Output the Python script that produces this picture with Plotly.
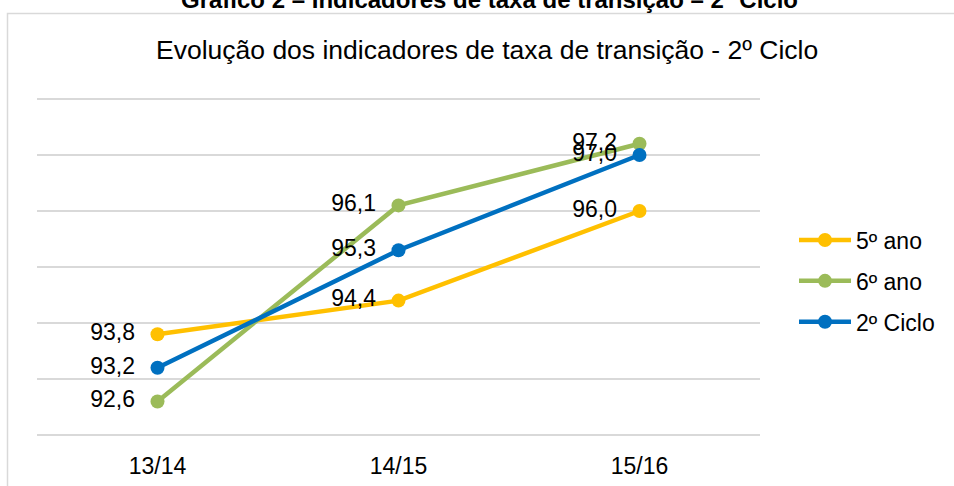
import plotly.graph_objects as go

categories = ["13/14", "14/15", "15/16"]
ano5 = [93.8, 94.4, 96.0]
ano6 = [92.6, 96.1, 97.2]
ciclo2 = [93.2, 95.3, 97.0]
series_names = ["5º ano", "6º ano", "2º Ciclo"]
series_colors = ["#FFC000", "#9BBB59", "#0070C0"]
PAD = "\u00a0\u00a0"
labels = lambda vals: [f"{v:.1f}".replace(".", ",") + PAD for v in vals]

W, H = 954, 486
L, R, T, B = 37, 194, 97, 49
PW, PH = W - L - R, H - T - B

def px(xp):
    return (xp - L) / PW

def py(yp):
    return (H - B - yp) / PH

FONT = "Liberation Sans, Arial, sans-serif"

fig = go.Figure()
for name, vals, col in zip(series_names, [ano5, ano6, ciclo2], series_colors):
    fig.add_trace(go.Scatter(
        x=categories, y=vals, name=name, legendgroup=name,
        mode="lines+markers+text",
        line=dict(color=col, width=4.5),
        marker=dict(color=col, size=14),
        text=labels(vals), textposition="middle left",
        textfont=dict(family=FONT, size=23, color="#000000"),
        cliponaxis=False, hoverinfo="skip",
    ))

fig.update_layout(
    width=W, height=H,
    margin=dict(l=L, r=R, t=T, b=B, autoexpand=False),
    paper_bgcolor="white", plot_bgcolor="white",
    font=dict(family=FONT, size=23, color="#000000"),
    showlegend=True,
    legend=dict(x=px(794), y=py(281), xanchor="left", yanchor="middle",
                font=dict(family=FONT, size=23, color="#000000"),
                tracegroupgap=8, itemwidth=52, bgcolor="rgba(0,0,0,0)"),
    xaxis=dict(type="category", range=[-0.5, 2.5], showgrid=False,
               showline=False, zeroline=False, ticks="", automargin=False,
               ticklabelstandoff=13,
               tickfont=dict(family=FONT, size=23, color="#000000")),
    yaxis=dict(range=[91.965, 98.035], dtick=1, tick0=92, showgrid=True,
               gridcolor="#D9D9D9", gridwidth=1.5, zeroline=False, automargin=False,
               showticklabels=False, ticks="", showline=False),
    shapes=[dict(type="rect", xref="paper", yref="paper",
                 x0=px(7.5), x1=px(980), y0=py(520), y1=py(13.5),
                 line=dict(color="#D9D9D9", width=1.5), fillcolor="rgba(0,0,0,0)",
                 layer="below")],
    annotations=[
        dict(text="Evolução dos indicadores de taxa de transição - 2º Ciclo",
             xref="paper", yref="paper", x=px(487), y=py(50),
             xanchor="center", yanchor="middle", showarrow=False,
             font=dict(family=FONT, size=26.5, color="#000000")),
        dict(text="<b>Gráfico 2 – Indicadores de taxa de transição – 2º Ciclo</b>",
             xref="paper", yref="paper", x=px(489), y=py(0),
             xanchor="center", yanchor="middle", showarrow=False,
             font=dict(family=FONT, size=24, color="#000000")),
    ],
)

fig.write_html("out.html",
               config={"displayModeBar": False, "staticPlot": True},
               post_script="document.body.style.margin='0';document.body.style.overflow='hidden';")
